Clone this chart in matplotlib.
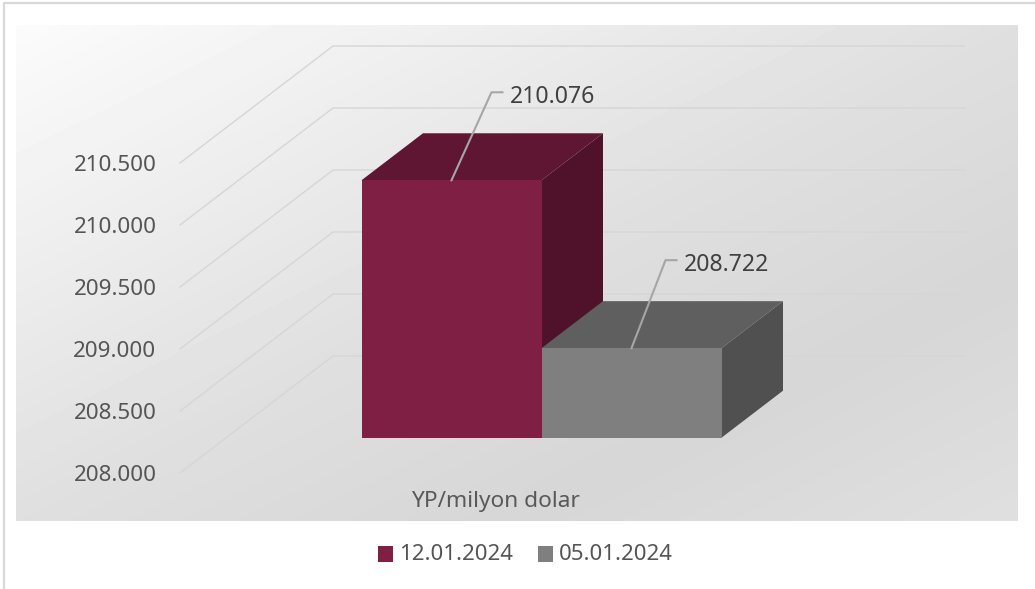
import numpy as np
import matplotlib
matplotlib.use("Agg")
import matplotlib.pyplot as plt
from matplotlib.patches import Polygon, Rectangle

plt.rcParams['font.family'] = ['Noto Sans', 'DejaVu Sans']

# data
dates = ["12.01.2024", "05.01.2024"]
values = [210076, 208722]
value_labels = ["210.076", "208.722"]
ticks = [208000, 208500, 209000, 209500, 210000, 210500]
tick_labels = ["208.000", "208.500", "209.000", "209.500", "210.000", "210.500"]
unit_label = "YP/milyon dolar"

front_cols = ["#7f1f44", "#7f7f7f"]
top_cols = ["#5f1632", "#5f5f5f"]
side_cols = ["#4f122a", "#505050"]

fig = plt.figure(figsize=(10.35, 5.89), dpi=100)
ax = fig.add_axes([0, 0, 1, 1])
ax.set_xlim(0, 1035)
ax.set_ylim(589, 0)
ax.axis("off")


# value axis scale, front plane of the chart
def val_y(v):
    return 473 - (v - 208000) * 0.124


# background panel gradient
px, py = np.meshgrid(np.linspace(0, 1, 200), np.linspace(0, 1, 120))
t = px * 0.5 + py * 0.5
shade = np.interp(t, [0, 0.25, 0.5, 0.75, 1], [0.985, 0.93, 0.875, 0.84, 0.875])
ax.imshow(shade, cmap="gray", vmin=0, vmax=1, extent=[16, 1018, 521, 25],
          aspect="auto", zorder=0, interpolation="bilinear")
ax.set_xlim(0, 1035)
ax.set_ylim(589, 0)

# outer frame
ax.plot([4, 4, 1035], [589, 3, 3], color="#d9d9d9", lw=1.6, zorder=1)

# gridlines running along the floor and the back wall
wall_dx, wall_dy = 153, -117
for v, lab in zip(ticks, tick_labels):
    y = val_y(v)
    ax.plot([180, 180 + wall_dx, 965], [y, y + wall_dy, y + wall_dy],
            color="#d6d6d6", lw=1.0, zorder=1)
    ax.text(156.5, y + 2.5, lab, ha="right", va="center", fontsize=16.1, color="#555555", zorder=5)

# bars
bar_left = 361.5
bar_w = 180
base_y = 437.7
depth_x, depth_y = 61.5, -47
for i in range(len(values)):
    x0 = bar_left + i * bar_w
    x1 = x0 + bar_w
    top = base_y - (values[i] - ticks[0]) * 0.124
    ax.add_patch(Polygon([(x1, base_y), (x1 + depth_x, base_y + depth_y),
                          (x1 + depth_x, top + depth_y), (x1, top)],
                         closed=True, fc=side_cols[i], ec="none", zorder=2 + i))
    ax.add_patch(Polygon([(x0, top), (x0 + depth_x, top + depth_y),
                          (x1 + depth_x, top + depth_y), (x1, top)],
                         closed=True, fc=top_cols[i], ec="none", zorder=2 + i))
    ax.add_patch(Rectangle((x0, top), bar_w, base_y - top, fc=front_cols[i],
                           ec="none", zorder=2 + i))

    # leader line and value label
    xc = (x0 + x1) / 2
    knee_x = xc + (40 if i == 0 else 34)
    knee_y = top - 88
    ax.plot([xc, knee_x, knee_x + 11], [top, knee_y, knee_y], color="#a6a6a6",
            lw=1.5, zorder=5, solid_joinstyle="miter")
    ax.text(knee_x + 18.5, knee_y + 5, value_labels[i], ha="left", va="center",
            fontsize=16.6, color="#404040", zorder=6)

ax.text(495, 502, unit_label, ha="center", va="center", fontsize=16.3, color="#595959", zorder=5)

# legend
legend_x = [378, 538]
for i in range(len(dates)):
    ax.add_patch(Rectangle((legend_x[i], 546), 14.5, 16, fc=front_cols[i], ec="none", zorder=5))
    ax.text(legend_x[i] + 21, 555, dates[i], ha="left", va="center", fontsize=16, color="#555555")

fig.savefig("out.png", dpi=100)
